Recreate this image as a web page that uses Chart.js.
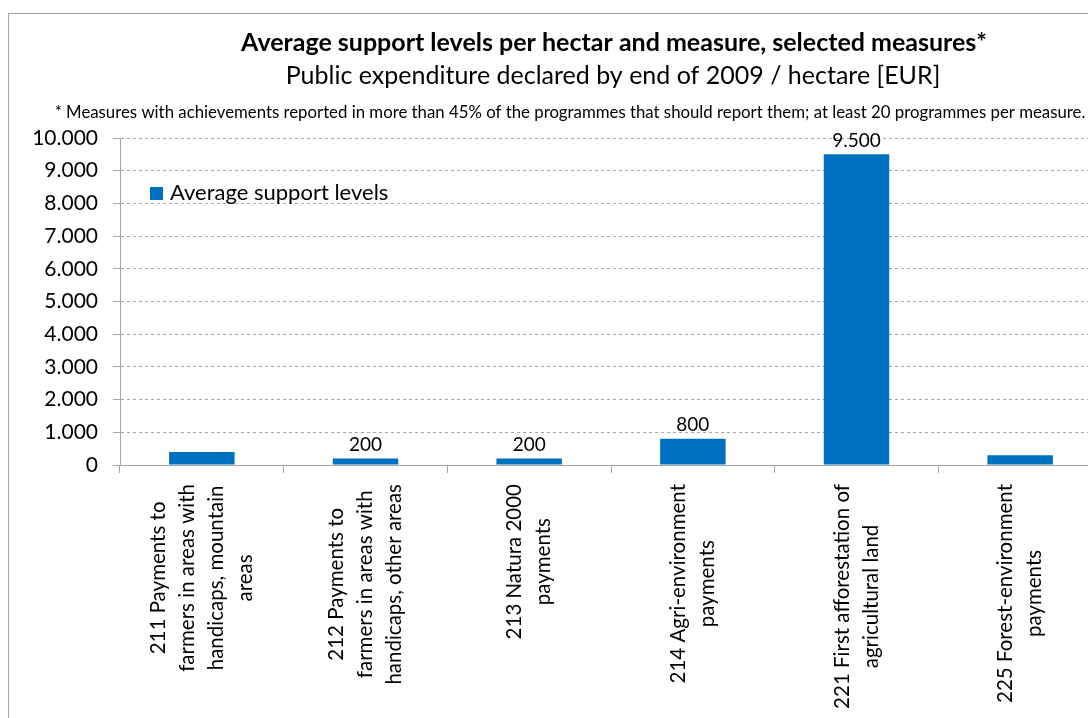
<!DOCTYPE html>
<html>
<head>
<meta charset="utf-8">
<script src="https://cdn.jsdelivr.net/npm/chart.js@4"></script>
<style>
  html, body { margin: 0; padding: 0; background: #fff; overflow: hidden; }
  #wrap { position: absolute; left: 0; top: 0; width: 1088px; height: 718px; overflow: hidden; }
</style>
</head>
<body>
<div id="wrap"><canvas id="support_chart" width="1102" height="718"></canvas></div>
<script>
'use strict';

const measures = [
    ['211 Payments to', 'farmers in areas with', 'handicaps, mountain', 'areas'],
    ['212 Payments to', 'farmers in areas with', 'handicaps, other areas'],
    ['213 Natura 2000', 'payments'],
    ['214 Agri-environment', 'payments'],
    ['221 First afforestation of', 'agricultural land'],
    ['225 Forest-environment', 'payments'],
];
const support_levels = [400, 200, 200, 800, 9500, 300];
const labelled = [false, true, true, true, true, false];
const y_ticks = [0, 1000, 2000, 3000, 4000, 5000, 6000, 7000, 8000, 9000, 10000];

const title_text = 'Average support levels per hectar and measure, selected measures*';
const subtitle_text = 'Public expenditure declared by end of 2009 / hectare [EUR]';
const note_text = '* Measures with achievements reported in more than 45% of the programmes that should report them; at least 20 programmes per measure.';

const FONT = 'Lato, "Open Sans", sans-serif';
const BLUE = '#0070C0';

const fmt = (v) => String(v).replace(/\B(?=(\d{3})+(?!\d))/g, '.');

// frame, headings, legend, value labels and the rotated category names
const decorations = {
    id: 'decorations',
    beforeDraw(chart) {
        const ctx = chart.ctx;
        ctx.save();
        ctx.fillStyle = '#fff';
        ctx.fillRect(0, 0, chart.width, chart.height);
        ctx.strokeStyle = '#a6a6a6';
        ctx.lineWidth = 1;
        ctx.strokeRect(8.5, 13.5, 1300, 900);
        ctx.restore();
    },
    afterDraw(chart) {
        const ctx = chart.ctx;
        const x_scale = chart.scales.x;
        const meta = chart.getDatasetMeta(0);
        ctx.save();
        ctx.fillStyle = '#000';
        ctx.textAlign = 'center';
        ctx.textBaseline = 'middle';

        ctx.font = 'bold 25px ' + FONT;
        ctx.fillText(title_text, 614, 43);
        ctx.font = '25px ' + FONT;
        ctx.fillText(subtitle_text, 613, 76);
        ctx.font = '16.8px ' + FONT;
        ctx.fillText(note_text, 570, 113);

        // legend inside the plot
        ctx.fillStyle = BLUE;
        ctx.fillRect(150, 187, 13, 13);
        ctx.fillStyle = '#000';
        ctx.textAlign = 'left';
        ctx.font = '22px ' + FONT;
        ctx.fillText(chart.data.datasets[0].label, 170, 193);

        // values above bars
        ctx.font = '19px ' + FONT;
        ctx.textAlign = 'center';
        ctx.textBaseline = 'bottom';
        meta.data.forEach((bar, i) => {
            if (!labelled[i]) return;
            ctx.fillText(fmt(support_levels[i]), bar.x, bar.y - 4);
        });

        // category names, read bottom-to-top, lines centred in their block
        ctx.font = '20.5px ' + FONT;
        ctx.textBaseline = 'middle';
        const line_gap = 29;
        measures.forEach((lines, i) => {
            const cx = x_scale.getPixelForValue(i);
            const widest = Math.max(...lines.map(l => ctx.measureText(l).width));
            const cy = x_scale.top + 19 + widest / 2;
            lines.forEach((line, j) => {
                const off = (j - (lines.length - 1) / 2) * line_gap;
                ctx.save();
                ctx.translate(cx + off, cy);
                ctx.rotate(-Math.PI / 2);
                ctx.fillText(line, 0, 0);
                ctx.restore();
            });
        });
        ctx.restore();
    }
};

new Chart(document.getElementById('support_chart'), {
    type: 'bar',
    data: {
        labels: measures.map(m => m.join(' ')),
        datasets: [{
            label: 'Average support levels',
            data: support_levels,
            backgroundColor: BLUE,
            borderWidth: 0,
            barPercentage: 0.4,
            categoryPercentage: 1,
        }],
    },
    options: {
        responsive: false,
        animation: false,
        devicePixelRatio: 1,
        layout: { padding: { top: 138, left: 0, right: 0, bottom: 0 } },
        plugins: {
            legend: { display: false },
            title: { display: false },
            tooltip: { enabled: false },
        },
        scales: {
            x: {
                ticks: { display: false },
                grid: {
                    offset: true,
                    drawOnChartArea: false,
                    drawTicks: true,
                    tickLength: 8,
                    color: '#a6a6a6',
                },
                border: { color: '#a6a6a6', width: 1 },
                afterFit: (scale) => { scale.height = 253; },
            },
            y: {
                min: 0,
                max: 10000,
                afterBuildTicks: (scale) => { scale.ticks = y_ticks.map(v => ({ value: v })); },
                ticks: {
                    color: '#000',
                    padding: 15,
                    font: { family: FONT, size: 21 },
                    callback: (v) => fmt(v),
                },
                grid: {
                    color: '#a6a6a6',
                    tickLength: 7,
                    tickColor: '#a6a6a6',
                },
                border: { color: '#a6a6a6', width: 1, dash: [3, 3] },
                afterFit: (scale) => { scale.width = 120; },
            },
        },
    },
    plugins: [decorations],
});
</script>
</body>
</html>
